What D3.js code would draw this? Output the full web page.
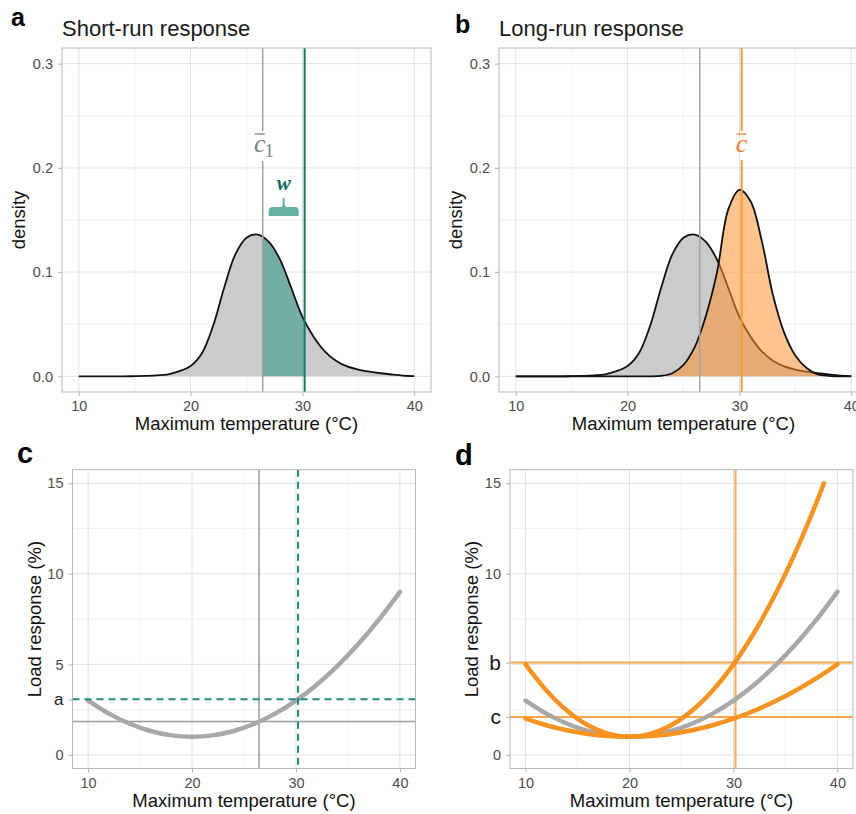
<!DOCTYPE html>
<html>
<head>
<meta charset="utf-8">
<script src="https://cdn.jsdelivr.net/npm/d3@7"></script>
<style>
  body { margin: 0; background: #fff; }
  text { font-family: "Liberation Sans", Arial, sans-serif; }
</style>
</head>
<body>
<div id="chart"></div>
<script>
// Values
const temps = [10, 11, 12, 13, 14, 15, 16, 17, 18, 19, 20, 21, 22, 23, 24, 25,
               26, 27, 28, 29, 30, 31, 32, 33, 34, 35, 36, 37, 38, 39, 40];
// short-run (current climate) temperature density
const densityShort = [0, 0, 0, 0, 0, 0.0002, 0.0005, 0.001, 0.002, 0.005, 0.010, 0.022,
                      0.048, 0.085, 0.117, 0.133, 0.136, 0.129, 0.112, 0.085, 0.057, 0.038,
                      0.024, 0.015, 0.0095, 0.0065, 0.0045, 0.003, 0.0018, 0.0008, 0.0003];
// long-run (future climate) temperature density
const densityLong = [0, 0, 0, 0, 0, 0, 0, 0, 0, 0, 0, 0, 0, 0.0005, 0.003, 0.011,
                     0.028, 0.058, 0.100, 0.160, 0.179, 0.168, 0.130, 0.078, 0.042, 0.020,
                     0.008, 0.002, 0.0005, 0, 0];

// load response curves
const loadTemps = [10, 12, 14, 16, 18, 20, 22, 24, 26, 28, 30, 32, 34, 36, 38, 40];
const loadBase = [3, 2.28, 1.72, 1.32, 1.08, 1, 1.08, 1.32, 1.72, 2.28, 3, 3.88, 4.92, 6.12, 7.48, 9];
const loadShallow = [2, 1.64, 1.36, 1.16, 1.04, 1, 1.04, 1.16, 1.36, 1.64, 2, 2.44, 2.96, 3.56, 4.24, 5];
const steepTemps = [10, 12, 14, 16, 18, 20, 22, 24, 26, 28, 30, 32, 34, 36, 38, 38.7];
const loadSteep = [5, 3.56, 2.44, 1.64, 1.16, 1, 1.16, 1.64, 2.44, 3.56, 5, 6.76, 8.84, 11.24, 13.96, 15];

const xTicks = [10, 20, 30, 40];
const xMinor = [15, 25, 35];
const densityTicks = [0, 0.1, 0.2, 0.3];
const densityMinor = [0.05, 0.15, 0.25];
const loadGrid = [0, 5, 10, 15];
const loadMinor = [2.5, 7.5, 12.5];

// reference levels
const cBar1 = 26.45;   // mean max temperature today
const cBar = 30.2;     // mean max temperature in future
const levelBase = 1.85;
const levelA = 3.07;
const levelB = 5.1;
const levelC = 2.1;

const teal = "#0f7b70";
const orange = "#f7931e";
const grayCurve = "#a8a8a8";

const svg = d3.select("#chart")
    .append("svg")
    .attr("width", 856)
    .attr("height", 814);

const defs = svg.append("defs");

// Set up a ggplot-like panel: grid, ticks, labels (border drawn last)
function makePanel(id, box, yDomain, yGrid, yMinor, yTicks, yFormat, yTitle) {
    const x = d3.scaleLinear().domain([8.5, 41.5]).range([box.left, box.right]);
    const y = d3.scaleLinear().domain(yDomain).range([box.bottom, box.top]);

    defs.append("clipPath").attr("id", "clip-" + id)
        .append("rect")
        .attr("x", box.left).attr("y", box.top)
        .attr("width", box.right - box.left)
        .attr("height", box.bottom - box.top);

    const g = svg.append("g");
    const grid = g.append("g");

    grid.selectAll(".vminor").data(xMinor).join("line")
        .attr("x1", d => x(d)).attr("x2", d => x(d))
        .attr("y1", box.top).attr("y2", box.bottom)
        .attr("stroke", "#eeeeee").attr("stroke-width", 0.8);
    grid.selectAll(".hminor").data(yMinor).join("line")
        .attr("x1", box.left).attr("x2", box.right)
        .attr("y1", d => y(d)).attr("y2", d => y(d))
        .attr("stroke", "#eeeeee").attr("stroke-width", 0.8);
    grid.selectAll(".vmajor").data(xTicks).join("line")
        .attr("x1", d => x(d)).attr("x2", d => x(d))
        .attr("y1", box.top).attr("y2", box.bottom)
        .attr("stroke", "#e2e2e2").attr("stroke-width", 1);
    grid.selectAll(".hmajor").data(yGrid).join("line")
        .attr("x1", box.left).attr("x2", box.right)
        .attr("y1", d => y(d)).attr("y2", d => y(d))
        .attr("stroke", "#e2e2e2").attr("stroke-width", 1);

    const plot = g.append("g").attr("clip-path", `url(#clip-${id})`);

    // axes
    const xAxis = g.append("g")
        .attr("transform", `translate(0,${box.bottom})`)
        .call(d3.axisBottom(x).tickValues(xTicks).tickSize(4).tickPadding(5));
    const yAxis = g.append("g")
        .attr("transform", `translate(${box.left},0)`)
        .call(d3.axisLeft(y).tickValues(yTicks).tickFormat(yFormat).tickSize(4).tickPadding(5));
    [xAxis, yAxis].forEach(a => {
        a.select(".domain").remove();
        a.selectAll("line").attr("stroke", "#b3b3b3");
        a.selectAll("text")
            .style("font-family", '"Liberation Sans", Arial, sans-serif')
            .style("font-size", "14.5px")
            .attr("fill", "#4d4d4d");
    });
    // letter ticks (a, b, c) are larger and darker
    yAxis.selectAll("text")
        .filter(function() { return /[a-z]/.test(this.textContent); })
        .style("font-size", id === "c" ? "17px" : "21px")
        .attr("fill", "#1a1a1a");

    // axis titles
    g.append("text")
        .attr("x", (box.left + box.right) / 2)
        .attr("y", box.bottom + 38)
        .attr("text-anchor", "middle")
        .style("font-size", "18.5px")
        .attr("fill", "#111")
        .text("Maximum temperature (°C)");
    g.append("text")
        .attr("transform", `translate(${box.left - yTitle.offset},${(box.top + box.bottom) / 2}) rotate(-90)`)
        .attr("text-anchor", "middle")
        .attr("dy", "0.35em")
        .style("font-size", "18.5px")
        .attr("fill", "#111")
        .text(yTitle.text);

    const border = () => g.append("rect")
        .attr("x", box.left).attr("y", box.top)
        .attr("width", box.right - box.left)
        .attr("height", box.bottom - box.top)
        .attr("fill", "none")
        .attr("stroke", "#b8b8b8").attr("stroke-width", 1);

    return { x, y, plot, g, border, box };
}

function panelLetter(letter, x, y, size) {
    svg.append("text")
        .attr("x", x).attr("y", y)
        .style("font-size", size + "px")
        .style("font-weight", "bold")
        .attr("fill", "#000")
        .text(letter);
}

function panelTitle(text, x, y) {
    svg.append("text")
        .attr("x", x).attr("y", y)
        .style("font-size", "22px")
        .attr("fill", "#1a1a1a")
        .text(text);
}

// c-bar label with an overline, optional subscript
function cBarLabel(g, xPos, color, sub) {
    const cx = sub ? xPos - 3 : xPos;
    g.append("text")
        .attr("x", cx).attr("y", 152)
        .attr("text-anchor", "middle")
        .style("font-family", '"Liberation Serif", "DejaVu Serif", serif')
        .style("font-style", "italic")
        .style("font-size", "26px")
        .attr("fill", color)
        .text("c");
    g.append("line")
        .attr("x1", cx - 5).attr("x2", cx + 5)
        .attr("y1", 134).attr("y2", 134)
        .attr("stroke", color).attr("stroke-width", 1.3);
    if (sub) {
        g.append("text")
            .attr("x", cx + 5).attr("y", 157)
            .style("font-family", '"Liberation Serif", "DejaVu Serif", serif')
            .style("font-size", "18px")
            .attr("fill", color)
            .text(sub);
    }
}

const densityFormat = d => d3.format(".1f")(d);
const pts = (xs, ys) => xs.map((t, i) => ({ t, v: ys[i] }));

// ---------------- Panel a ----------------
const pa = makePanel("a", { left: 62, right: 431, top: 48, bottom: 392 },
    [-0.015, 0.315], densityTicks, densityMinor, densityTicks, densityFormat,
    { text: "density", offset: 43.5 });

const areaA = d3.area()
    .x(d => pa.x(d.t)).y0(pa.y(0)).y1(d => pa.y(Math.max(0, d.v)))
    .curve(d3.curveCatmullRom);
const lineA = d3.line()
    .x(d => pa.x(d.t)).y(d => pa.y(Math.max(0, d.v)))
    .curve(d3.curveCatmullRom);

pa.plot.append("path").datum(pts(temps, densityShort))
    .attr("d", areaA).attr("fill", "#cbcbcb");

defs.append("clipPath").attr("id", "clip-w")
    .append("rect")
    .attr("x", pa.x(cBar1)).attr("y", 48)
    .attr("width", pa.x(cBar) - pa.x(cBar1)).attr("height", 344);
pa.plot.append("path").datum(pts(temps, densityShort))
    .attr("d", areaA).attr("fill", "#73ada3")
    .attr("clip-path", "url(#clip-w)");

pa.plot.append("path").datum(pts(temps, densityShort))
    .attr("d", lineA).attr("fill", "none")
    .attr("stroke", "#111").attr("stroke-width", 1.8);

// vertical lines: grey c-bar-1 with a gap for its label, teal c-bar
pa.plot.append("line")
    .attr("x1", pa.x(cBar1)).attr("x2", pa.x(cBar1))
    .attr("y1", 48).attr("y2", 131)
    .attr("stroke", "#a3a3a3").attr("stroke-width", 1.5);
pa.plot.append("line")
    .attr("x1", pa.x(cBar1)).attr("x2", pa.x(cBar1))
    .attr("y1", 161).attr("y2", 392)
    .attr("stroke", "#a3a3a3").attr("stroke-width", 1.5);
pa.plot.append("line")
    .attr("x1", pa.x(cBar)).attr("x2", pa.x(cBar))
    .attr("y1", 48).attr("y2", 392)
    .attr("stroke", teal).attr("stroke-width", 2);
cBarLabel(pa.g, pa.x(cBar1), "#7f7f7f", "1");

// w brace between the two means
const xm = (pa.x(cBar1) + pa.x(cBar)) / 2;
const bw = 15;
pa.g.append("path")
    .attr("d", `M${xm - bw},216 L${xm - bw},211 Q${xm - bw},207 ${xm - bw + 4},207 ` +
               `L${xm - 3},207 Q${xm - 1},207 ${xm - 1},203 L${xm - 1},198 L${xm + 1},198 ` +
               `L${xm + 1},203 Q${xm + 1},207 ${xm + 3},207 L${xm + bw - 4},207 ` +
               `Q${xm + bw},207 ${xm + bw},211 L${xm + bw},216 Z`)
    .attr("fill", "#64b2a0");
pa.g.append("text")
    .attr("x", xm).attr("y", 190)
    .attr("text-anchor", "middle")
    .style("font-family", '"Liberation Serif", "DejaVu Serif", serif')
    .style("font-style", "italic")
    .style("font-weight", "bold")
    .style("font-size", "21px")
    .attr("fill", "#0b6b5f")
    .text("w");
pa.border();

// ---------------- Panel b ----------------
const pb = makePanel("b", { left: 499, right: 868, top: 48, bottom: 392 },
    [-0.015, 0.315], densityTicks, densityMinor, densityTicks, densityFormat,
    { text: "density", offset: 43 });

const areaB = d3.area()
    .x(d => pb.x(d.t)).y0(pb.y(0)).y1(d => pb.y(Math.max(0, d.v)))
    .curve(d3.curveCatmullRom);
const lineB = d3.line()
    .x(d => pb.x(d.t)).y(d => pb.y(Math.max(0, d.v)))
    .curve(d3.curveCatmullRom);

pb.plot.append("path").datum(pts(temps, densityShort))
    .attr("d", areaB).attr("fill", "#cbcbcb");
pb.plot.append("path").datum(pts(temps, densityShort))
    .attr("d", lineB).attr("fill", "none")
    .attr("stroke", "#111").attr("stroke-width", 1.8);
pb.plot.append("path").datum(pts(temps, densityLong))
    .attr("d", areaB).attr("fill", "#fb9430").attr("fill-opacity", 0.55);
pb.plot.append("path").datum(pts(temps, densityLong))
    .attr("d", lineB).attr("fill", "none")
    .attr("stroke", "#111").attr("stroke-width", 1.8);

pb.plot.append("line")
    .attr("x1", pb.x(cBar1)).attr("x2", pb.x(cBar1))
    .attr("y1", 48).attr("y2", 392)
    .attr("stroke", "#a3a3a3").attr("stroke-width", 1.5);
pb.plot.append("line")
    .attr("x1", pb.x(cBar)).attr("x2", pb.x(cBar))
    .attr("y1", 48).attr("y2", 131)
    .attr("stroke", "#f99b3a").attr("stroke-width", 2);
pb.plot.append("line")
    .attr("x1", pb.x(cBar)).attr("x2", pb.x(cBar))
    .attr("y1", 160).attr("y2", 392)
    .attr("stroke", "#f99b3a").attr("stroke-width", 2);
cBarLabel(pb.g, pb.x(cBar), "#f47a20", null);
pb.border();

// ---------------- Panel c ----------------
const loadFormatC = d => d === levelA ? "a" : String(d);
const pc = makePanel("c", { left: 72.5, right: 415.5, top: 469.7, bottom: 768.5 },
    [-0.75, 15.75], loadGrid, loadMinor, [0, levelA, 5, 10, 15], loadFormatC,
    { text: "Load response (%)", offset: 37.5 });

const curveC = d3.line()
    .x(d => pc.x(d.t)).y(d => pc.y(d.v))
    .curve(d3.curveCatmullRom);

pc.plot.append("line")
    .attr("x1", pc.x(cBar1)).attr("x2", pc.x(cBar1))
    .attr("y1", pc.box.top).attr("y2", pc.box.bottom)
    .attr("stroke", "#9a9a9a").attr("stroke-width", 1.5);
pc.plot.append("line")
    .attr("x1", pc.box.left).attr("x2", pc.box.right)
    .attr("y1", pc.y(levelBase)).attr("y2", pc.y(levelBase))
    .attr("stroke", "#9a9a9a").attr("stroke-width", 1.5);
pc.plot.append("path").datum(pts(loadTemps, loadBase))
    .attr("d", curveC).attr("fill", "none")
    .attr("stroke", grayCurve).attr("stroke-width", 4.5)
    .attr("stroke-linecap", "round");
pc.plot.append("line")
    .attr("x1", pc.x(cBar)).attr("x2", pc.x(cBar))
    .attr("y1", pc.box.top).attr("y2", pc.box.bottom)
    .attr("stroke", "#1f8a80").attr("stroke-width", 2)
    .attr("stroke-dasharray", "7,5");
pc.plot.append("line")
    .attr("x1", pc.box.left).attr("x2", pc.box.right)
    .attr("y1", pc.y(levelA)).attr("y2", pc.y(levelA))
    .attr("stroke", "#1f8a80").attr("stroke-width", 2)
    .attr("stroke-dasharray", "7,5");
pc.border();

// ---------------- Panel d ----------------
const loadFormatD = d => d === levelB ? "b" : d === levelC ? "c" : String(d);
const pd = makePanel("d", { left: 510, right: 853, top: 469.7, bottom: 768.5 },
    [-0.75, 15.75], loadGrid, loadMinor, [0, levelC, levelB, 10, 15], loadFormatD,
    { text: "Load response (%)", offset: 38 });

const curveD = d3.line()
    .x(d => pd.x(d.t)).y(d => pd.y(d.v))
    .curve(d3.curveCatmullRom);

[levelB, levelC].forEach(lv => {
    pd.plot.append("line")
        .attr("x1", pd.box.left).attr("x2", pd.box.right)
        .attr("y1", pd.y(lv)).attr("y2", pd.y(lv))
        .attr("stroke", "#fba64f").attr("stroke-width", 2);
});
pd.plot.append("line")
    .attr("x1", pd.x(cBar)).attr("x2", pd.x(cBar))
    .attr("y1", pd.box.top).attr("y2", pd.box.bottom)
    .attr("stroke", "#fba64f").attr("stroke-width", 2);

pd.plot.append("path").datum(pts(loadTemps, loadBase))
    .attr("d", curveD).attr("fill", "none")
    .attr("stroke", grayCurve).attr("stroke-width", 4.5)
    .attr("stroke-linecap", "round");
pd.plot.append("path").datum(pts(loadTemps, loadShallow))
    .attr("d", curveD).attr("fill", "none")
    .attr("stroke", orange).attr("stroke-width", 4.5)
    .attr("stroke-linecap", "round");
pd.plot.append("path").datum(pts(steepTemps, loadSteep))
    .attr("d", curveD).attr("fill", "none")
    .attr("stroke", orange).attr("stroke-width", 4.5)
    .attr("stroke-linecap", "round");
pd.border();

// titles and panel letters
panelLetter("a", 11, 26, 25);
panelLetter("b", 455, 33, 25);
panelLetter("c", 17, 463, 29);
panelLetter("d", 455, 465, 29);
panelTitle("Short-run response", 62, 36);
panelTitle("Long-run response", 499, 36);
</script>
</body>
</html>
